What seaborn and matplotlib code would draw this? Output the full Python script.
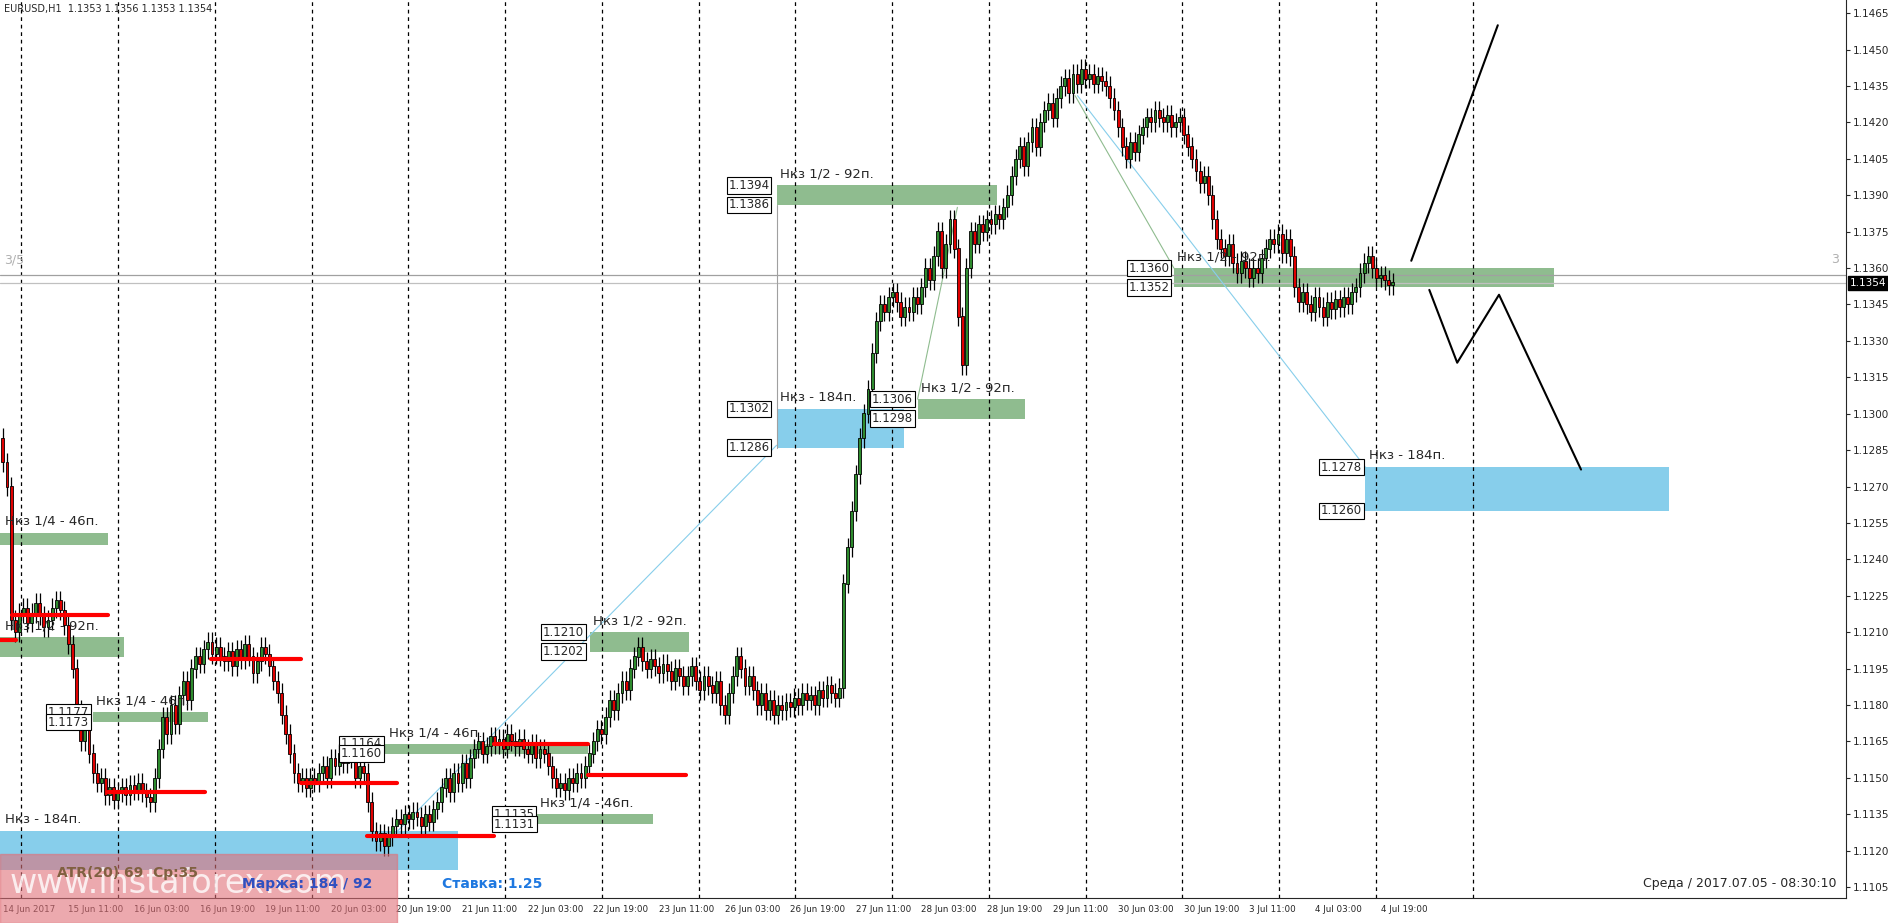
import numpy as np
import matplotlib
matplotlib.use("Agg")
import matplotlib.pyplot as plt
import seaborn as sns

sns.set_style("white")
plt.rcParams["font.family"] = ["DejaVu Sans"]

# hourly closes, one row per trading day
closes = [
    1.1280, 1.1270, 1.1215, 1.1210, 1.1218,
    1.1220, 1.1214, 1.1218, 1.1222, 1.1217, 1.1212, 1.1215, 1.1220, 1.1223, 1.1219, 1.1213, 1.1205, 1.1195, 1.1178, 1.1165, 1.1172, 1.1160, 1.1152, 1.1148, 1.1150, 1.1143, 1.1146, 1.1141, 1.1144,
    1.1146, 1.1143, 1.1147, 1.1145, 1.1148, 1.1144, 1.1142, 1.1140, 1.1150, 1.1162, 1.1175, 1.1168, 1.1180, 1.1172, 1.1184, 1.1190, 1.1182, 1.1195, 1.1200, 1.1197, 1.1203, 1.1206, 1.1201, 1.1204,
    1.1200, 1.1198, 1.1202, 1.1196, 1.1203, 1.1199, 1.1205, 1.1200, 1.1193, 1.1198, 1.1204, 1.1201, 1.1196, 1.1190, 1.1185, 1.1176, 1.1168, 1.1160, 1.1152, 1.1148, 1.1150, 1.1146, 1.1150, 1.1148,
    1.1152, 1.1155, 1.1150, 1.1158, 1.1155, 1.1160, 1.1156, 1.1162, 1.1158, 1.1150, 1.1155, 1.1152, 1.1140, 1.1128, 1.1124, 1.1127, 1.1122, 1.1126, 1.1130, 1.1133, 1.1131, 1.1135, 1.1133, 1.1136,
    1.1134, 1.1130, 1.1135, 1.1132, 1.1137, 1.1140, 1.1146, 1.1150, 1.1144, 1.1152, 1.1148, 1.1156, 1.1150, 1.1158, 1.1162, 1.1165, 1.1160, 1.1163, 1.1167, 1.1164, 1.1166, 1.1162, 1.1168, 1.1165,
    1.1163, 1.1166, 1.1162, 1.1160, 1.1164, 1.1158, 1.1162, 1.1160, 1.1155, 1.1150, 1.1146, 1.1148, 1.1145, 1.1150, 1.1148, 1.1152, 1.1150, 1.1155, 1.1160, 1.1165, 1.1170, 1.1168, 1.1175, 1.1182,
    1.1178, 1.1185, 1.1190, 1.1186, 1.1195, 1.1200, 1.1204, 1.1198, 1.1195, 1.1199, 1.1196, 1.1193, 1.1197, 1.1194, 1.1190, 1.1195, 1.1192, 1.1188, 1.1192, 1.1196, 1.1190, 1.1186, 1.1192, 1.1188,
    1.1185, 1.1190, 1.1180, 1.1176, 1.1185, 1.1192, 1.1200, 1.1195, 1.1188, 1.1192, 1.1186, 1.1180, 1.1185, 1.1178, 1.1182, 1.1176, 1.1180, 1.1178, 1.1181, 1.1179, 1.1183, 1.1180, 1.1185, 1.1182,
    1.1184, 1.1180, 1.1186, 1.1183, 1.1188, 1.1185, 1.1183, 1.1187, 1.1230, 1.1245, 1.1260, 1.1275, 1.1290, 1.1300, 1.1310, 1.1325, 1.1338, 1.1345, 1.1342, 1.1348, 1.1350, 1.1346, 1.1340, 1.1344,
    1.1342, 1.1348, 1.1345, 1.1352, 1.1360, 1.1355, 1.1365, 1.1375, 1.1360, 1.1370, 1.1380, 1.1368, 1.1340, 1.1320, 1.1360, 1.1375, 1.1370, 1.1378, 1.1375, 1.1380, 1.1378, 1.1382, 1.1380, 1.1385,
    1.1390, 1.1398, 1.1405, 1.1410, 1.1402, 1.1412, 1.1418, 1.1410, 1.1420, 1.1425, 1.1428, 1.1422, 1.1430, 1.1435, 1.1438, 1.1432, 1.1440, 1.1436, 1.1442, 1.1438, 1.1440, 1.1436, 1.1439, 1.1437,
    1.1435, 1.1430, 1.1425, 1.1418, 1.1410, 1.1405, 1.1412, 1.1408, 1.1415, 1.1418, 1.1422, 1.1420, 1.1425, 1.1422, 1.1420, 1.1423, 1.1418, 1.1420, 1.1422, 1.1415, 1.1410, 1.1405, 1.1400, 1.1395,
    1.1398, 1.1390, 1.1380, 1.1372, 1.1368, 1.1365, 1.1370, 1.1362, 1.1358, 1.1363, 1.1360, 1.1356, 1.1360, 1.1358, 1.1364, 1.1368, 1.1372, 1.1370, 1.1374, 1.1366, 1.1372, 1.1365, 1.1352, 1.1346,
    1.1350, 1.1345, 1.1342, 1.1348, 1.1344, 1.1340, 1.1346, 1.1343, 1.1347, 1.1344, 1.1348, 1.1345, 1.1350, 1.1352, 1.1358, 1.1362, 1.1365, 1.1360, 1.1356, 1.1357, 1.1355, 1.1353, 1.1354,
]
first_open = 1.1290
tick_labels = ["14 Jun 2017", "15 Jun 11:00", "16 Jun 03:00", "16 Jun 19:00", "19 Jun 11:00",
               "20 Jun 03:00", "20 Jun 19:00", "21 Jun 11:00", "22 Jun 03:00", "22 Jun 19:00",
               "23 Jun 11:00", "26 Jun 03:00", "26 Jun 19:00", "27 Jun 11:00", "28 Jun 03:00",
               "28 Jun 19:00", "29 Jun 11:00", "30 Jun 03:00", "30 Jun 19:00", "3 Jul 11:00",
               "4 Jul 03:00", "4 Jul 19:00"]

# zones: bar start, bar end, low, high, kind, label
zones = [
    (-0.7, 25.7, 1.1246, 1.1251, "g", "Нкз 1/4 - 46п."),
    (-0.7, 29.5, 1.1200, 1.1208, "g", "Нкз 1/2 - 92п."),
    (21.9, 50.1, 1.1173, 1.1177, "g", "Нкз 1/4 - 46п."),
    (93.3, 142.6, 1.1160, 1.1164, "g", "Нкз 1/4 - 46п."),
    (143.2, 167.3, 1.1202, 1.1210, "g", "Нкз 1/2 - 92п."),
    (130.3, 158.5, 1.1131, 1.1135, "g", "Нкз 1/4 - 46п."),
    (-0.7, 110.9, 1.1112, 1.1128, "b", "Нкз - 184п."),
    (188.7, 242.4, 1.1386, 1.1394, "g", "Нкз 1/2 - 92п."),
    (188.7, 219.8, 1.1286, 1.1302, "b", "Нкз - 184п."),
    (223.1, 249.2, 1.1298, 1.1306, "g", "Нкз 1/2 - 92п."),
    (285.6, 378.2, 1.1352, 1.1360, "g", "Нкз 1/2 - 92п."),
    (332.3, 406.4, 1.1260, 1.1278, "b", "Нкз - 184п."),
]
# price boxes: bar, upper text, lower text
boxes = [(11, "1.1177", "1.1173"), (82.4, "1.1164", "1.1160"), (131.7, "1.1210", "1.1202"),
         (119.7, "1.1135", "1.1131"), (177, "1.1394", "1.1386"), (177, "1.1302", "1.1286"),
         (212, "1.1306", "1.1298"), (274.5, "1.1360", "1.1352"), (321.5, "1.1278", "1.1260")]
red_lines = [(-0.7, 3.1, 1.1207), (2.2, 25.7, 1.1217), (25.7, 49.2, 1.1144), (50.7, 72.7, 1.1199),
             (72.7, 96.2, 1.1148), (88.8, 119.7, 1.1126), (119.7, 142.6, 1.1164), (142.6, 166.7, 1.1151)]
forecast_a = ([343.5, 364.6], [1.1363, 1.1460])
forecast_b = ([347.9, 354.7, 364.9, 384.9], [1.1351, 1.1321, 1.1349, 1.1277])

c = np.array(closes)
o = np.concatenate([[first_open], c[:-1]])
hi = np.maximum(o, c) + 0.0004
lo = np.minimum(o, c) - 0.0004
x = np.arange(len(c))
up = c >= o

fig = plt.figure(figsize=(18.88, 9.23), dpi=100)
ax = fig.add_axes([0, 0.027, 0.9777, 0.973])
ax.set_xlim(-0.7, 449.5)
ax.set_ylim(1.11005, 1.14704)

for d in range(16):
    ax.axvline(4.5 + 23.6 * d, color="black", ls=(0, (3, 3)), lw=0.9)

ax.axhline(1.1357, color="#a0a0a0", lw=0.9)
ax.axhline(1.1354, color="#c0c0c0", lw=0.9)

green, blue = "#8fbc8f", "#87ceeb"
for x0, x1, l, h, k, lab in zones:
    ax.fill_between([x0, x1], l, h, color=green if k == "g" else blue, lw=0, zorder=1)
    ax.text(x0 + 0.8 if x0 > 0 else 0.5, h + 0.0002, lab, fontsize=9.5, va="bottom", zorder=5)
for bx, t1, t2 in boxes:
    for t in (t1, t2):
        ax.text(bx, float(t), t, fontsize=8.5, va="center", ha="left", zorder=6,
                bbox=dict(boxstyle="square,pad=0.15", fc="white", ec="black", lw=0.8))

ax.plot([96.2, 188.7], [1.1128, 1.1287], color="#87ceeb", lw=0.8, zorder=2)
ax.plot([262.1, 332.3], [1.1431, 1.1278], color="#87ceeb", lw=0.8, zorder=2)
ax.plot([261.5, 285.6], [1.1431, 1.1360], color="#8fbc8f", lw=0.8, zorder=2)
ax.plot([223.1, 232.8], [1.1306, 1.1385], color="#8fbc8f", lw=0.8, zorder=2)
ax.plot([188.7, 188.7], [1.1286, 1.1386], color="#a0a0a0", lw=0.8, zorder=2)

ax.vlines(x, lo, hi, color="black", lw=0.9, zorder=3)
ax.bar(x[up], (c - o)[up] + 1e-5, bottom=o[up], width=0.7, color="#2e8b2e", edgecolor="black", lw=0.6, zorder=4)
ax.bar(x[~up], (o - c)[~up] + 1e-5, bottom=c[~up], width=0.7, color="#e00000", edgecolor="black", lw=0.6, zorder=4)

for x0, x1, yv in red_lines:
    ax.plot([x0, x1], [yv, yv], color="red", lw=3, zorder=5)
ax.plot(*forecast_a, color="black", lw=1.5, zorder=5)
ax.plot(*forecast_b, color="black", lw=1.5, zorder=5)

ax.yaxis.tick_right()
yt = np.arange(1.1105, 1.1466, 0.0015)
ax.set_yticks(yt)
ax.set_yticklabels([f"{v:.4f}" for v in yt], fontsize=7.5)
ax.set_xticks(np.arange(len(tick_labels)) * 16)
ax.set_xticklabels(tick_labels, fontsize=6.3, ha="left")
ax.tick_params(axis="both", length=3, direction="out", pad=2)
for s in ["top", "left"]:
    ax.spines[s].set_visible(False)

ax.text(1.002, 1.1354, "1.1354", transform=ax.get_yaxis_transform(), fontsize=7.5, color="white",
        va="center", bbox=dict(boxstyle="square,pad=0.2", fc="black", ec="black"))
ax.text(0.002, 0.995, "EURUSD,H1  1.1353 1.1356 1.1353 1.1354", transform=ax.transAxes, fontsize=7, va="top")
ax.text(0.002, 1.1362, "3/5", transform=ax.get_yaxis_transform(), fontsize=9, color="#b0b0b0")
ax.text(0.992, 1.1362, "3", transform=ax.get_yaxis_transform(), fontsize=9, color="#b0b0b0")
ax.text(0.995, 0.012, "Среда / 2017.07.05 - 08:30:10", transform=ax.transAxes, fontsize=9, ha="right")

# watermark panel
fig.patches.append(plt.Rectangle((0, 0), 0.2105, 0.075, transform=fig.transFigure,
                                 color="#e07078", alpha=0.6, zorder=10))
fig.text(0.005, 0.032, "www.instaforex.com", fontsize=24, color="white", alpha=0.8, zorder=11)
fig.text(0.03, 0.05, "ATR(20) 69  Ср:35", fontsize=10, color="#806040", weight="bold", zorder=11)
fig.text(0.128, 0.038, "Маржа: 184 / 92", fontsize=10, color="#3050c0", weight="bold", zorder=11)
fig.text(0.234, 0.038, "Ставка: 1.25", fontsize=10, color="#1e78e0", weight="bold", zorder=11)

plt.savefig("out.png", dpi=100)
plt.close()
